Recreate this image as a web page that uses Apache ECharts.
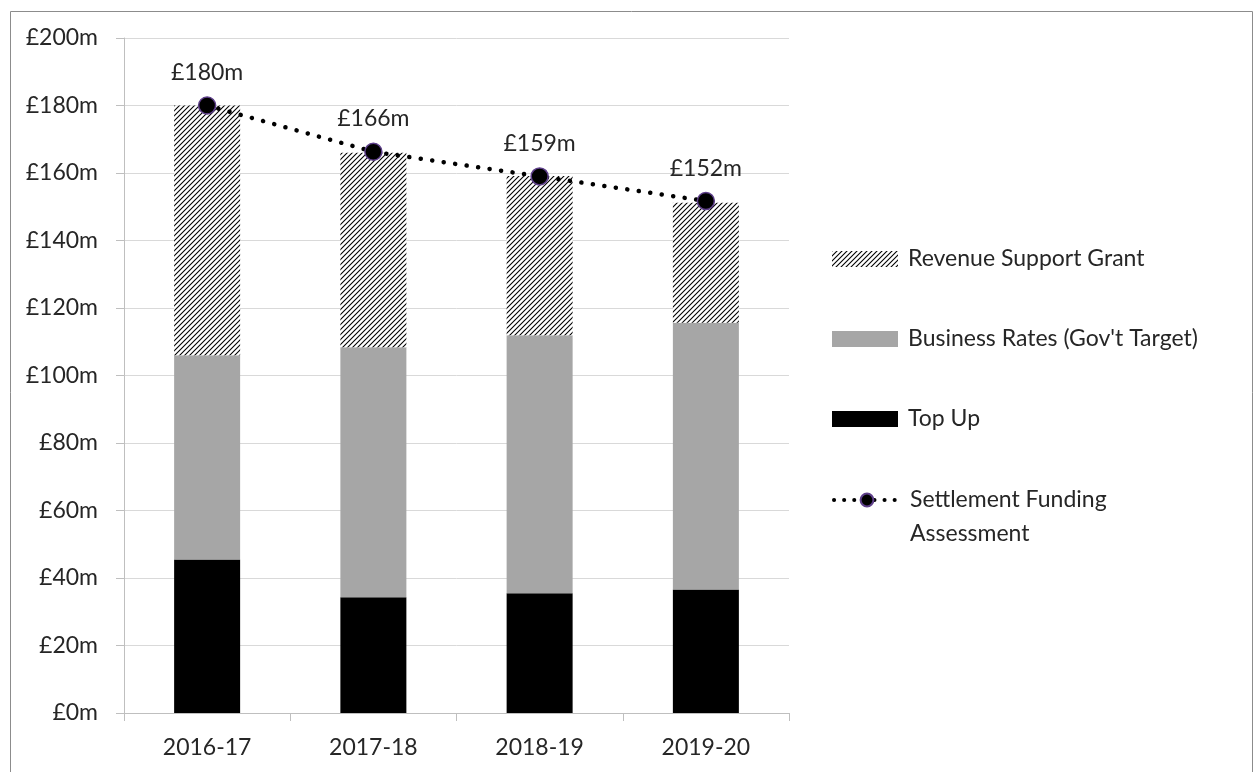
<!DOCTYPE html>
<html>
<head>
<meta charset="utf-8">
<script src="https://cdn.jsdelivr.net/npm/echarts@6/dist/echarts.min.js"></script>
<style>
html,body{margin:0;padding:0;background:#fff;}
#chart{width:1256px;height:772px;}
</style>
</head>
<body>
<div id="chart"></div>
<script>
const categories = ['2016-17', '2017-18', '2018-19', '2019-20'];
const topUp = [45.5, 34.3, 35.5, 36.6];
const businessRates = [60.5, 74.1, 76.4, 79.0];
const revenueSupportGrant = [74.0, 57.6, 47.2, 35.6];
const settlementFunding = [180.0, 166.3, 159.0, 151.7];
const yTicks = [0, 20, 40, 60, 80, 100, 120, 140, 160, 180, 200];

function hatch() {
  const c = document.createElement('canvas');
  c.width = 5; c.height = 5;
  const ctx = c.getContext('2d');
  ctx.fillStyle = '#fff';
  ctx.fillRect(0, 0, 5, 5);
  ctx.strokeStyle = '#000';
  ctx.lineWidth = 1.1;
  ctx.beginPath();
  ctx.moveTo(-1, 6); ctx.lineTo(6, -1);
  ctx.moveTo(-1, 1); ctx.lineTo(1, -1);
  ctx.moveTo(4, 6); ctx.lineTo(6, 4);
  ctx.stroke();
  return c;
}

const font = 'Lato, "Noto Sans", sans-serif';
const txt = '#262626';
const FS = 23;
const chart = echarts.init(document.getElementById('chart'));
chart.setOption({
  animation: false,
  backgroundColor: '#fff',
  textStyle: { fontFamily: font },
  graphic: [{
    type: 'rect', left: 8, top: 9,
    shape: { width: 1242, height: 800 },
    style: { fill: 'none', stroke: '#8c8c8c', lineWidth: 1 },
    silent: true
  }],
  grid: { left: 124, right: 467, top: 38, bottom: 59 },
  legend: [{
    orient: 'vertical',
    left: 827, top: 240,
    itemWidth: 66, itemHeight: 16,
    itemGap: 52,
    textStyle: { fontSize: FS, color: txt, fontFamily: font, lineHeight: 28, padding: [0, 0, 0, 5] },
    data: [
      { name: 'Revenue Support Grant', icon: 'rect' },
      { name: 'Business Rates (Gov\'t Target)', icon: 'rect' },
      { name: 'Top Up', icon: 'rect' }
    ]
  }, {
    orient: 'vertical',
    left: 827, top: 444,
    itemWidth: 66, itemHeight: 16,
    lineStyle: { width: 4, type: [0.1, 10], cap: 'round', color: '#000' },
    textStyle: { fontSize: FS, color: txt, fontFamily: font, lineHeight: 34, padding: [0, 0, 0, 5] },
    data: ['Settlement Funding Assessment'],
    formatter: function (n) { return ' \nSettlement Funding\nAssessment'; }
  }],
  xAxis: {
    type: 'category',
    data: categories,
    axisLine: { lineStyle: { color: '#bfbfbf', width: 1 } },
    axisTick: { show: true, length: 8, lineStyle: { color: '#bfbfbf' } },
    axisLabel: { fontSize: FS, color: txt, margin: 23, fontFamily: font }
  },
  yAxis: {
    type: 'value',
    min: 0, max: 200, interval: 20,
    axisLine: { show: true, lineStyle: { color: '#bfbfbf' } },
    axisTick: { show: true, length: 8, lineStyle: { color: '#bfbfbf' } },
    splitLine: { lineStyle: { color: '#d9d9d9', width: 1 } },
    axisLabel: {
      fontSize: FS, color: txt, margin: 26, fontFamily: font,
      formatter: function (v) { return yTicks.indexOf(v) >= 0 ? '£' + v + 'm' : ''; }
    }
  },
  series: [
    {
      name: 'Top Up', type: 'bar', stack: 'a', barWidth: 66,
      itemStyle: { color: '#000' },
      data: topUp
    },
    {
      name: 'Business Rates (Gov\'t Target)', type: 'bar', stack: 'a', barWidth: 66,
      itemStyle: { color: '#a6a6a6' },
      data: businessRates
    },
    {
      name: 'Revenue Support Grant', type: 'bar', stack: 'a', barWidth: 66,
      itemStyle: { color: { image: hatch(), repeat: 'repeat' } },
      data: revenueSupportGrant
    },
    {
      name: 'Settlement Funding Assessment', type: 'line',
      data: settlementFunding,
      symbol: 'circle', symbolSize: 17,
      itemStyle: { color: '#000', borderColor: '#5e3f8a', borderWidth: 1.5 },
      lineStyle: { color: '#000', width: 4.5, type: [0.1, 11.5], cap: 'round' },
      label: {
        show: true, position: 'top', distance: 12,
        fontSize: FS, color: txt, fontFamily: font,
        formatter: function (p) { return '£' + Math.round(p.value) + 'm'; }
      },
      z: 5
    }
  ]
});
</script>
</body>
</html>
